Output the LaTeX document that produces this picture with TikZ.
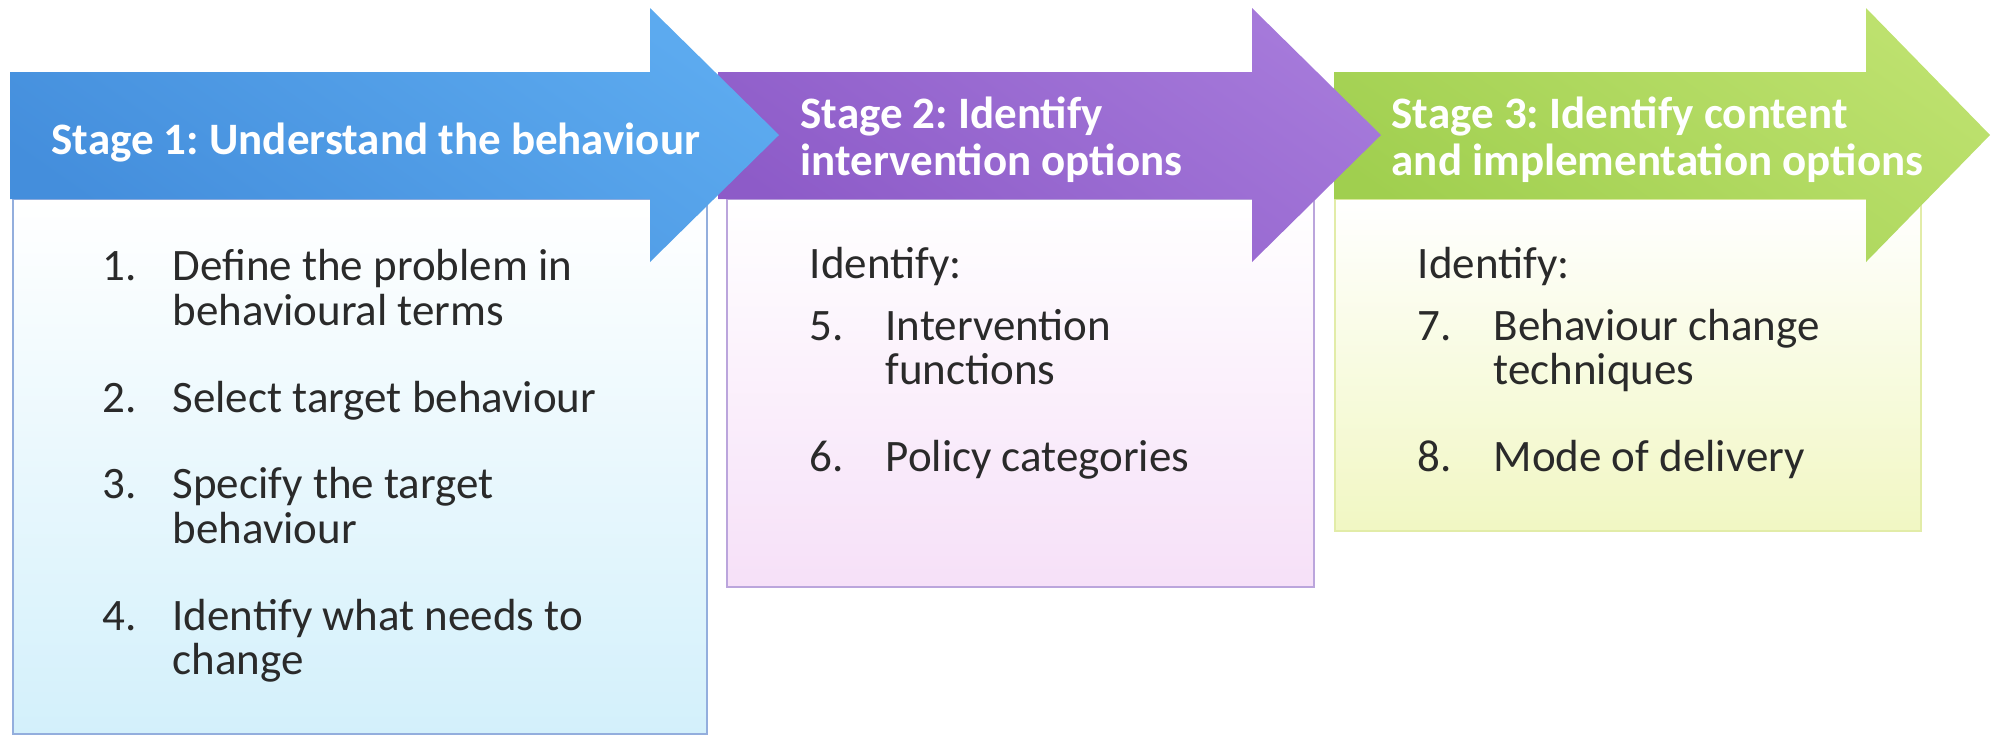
\documentclass[tikz,border=0pt]{standalone}
\usepackage{fontspec}
\setmainfont{Carlito}
\usepackage{xcolor}
\usepackage{tikz}
\usetikzlibrary{positioning, calc}
\frenchspacing

\definecolor{blueL}{HTML}{5CAAEF}
\definecolor{blueD}{HTML}{448EDC}
\definecolor{purpleL}{HTML}{A579DA}
\definecolor{purpleD}{HTML}{8D5BC8}
\definecolor{greenL}{HTML}{BDE16E}
\definecolor{greenD}{HTML}{A0CF4F}
\definecolor{bluePanel}{HTML}{D3F0FB}
\definecolor{blueEdge}{HTML}{93AEDD}
\definecolor{purplePanel}{HTML}{F6E0F8}
\definecolor{purpleEdge}{HTML}{BBA5DC}
\definecolor{greenPanel}{HTML}{F1F7C3}
\definecolor{greenEdge}{HTML}{E2ECA8}
\definecolor{ink}{HTML}{2A2A2A}

\begin{document}
\begin{tikzpicture}[x=0.1mm, y=-0.1mm,
  stagetext/.style={anchor=west, inner sep=0pt, align=left, text=white,
    font=\bfseries\fontsize{12.8}{13.4}\selectfont},
  steplist/.style={anchor=north west, inner sep=0pt, text=ink,
    font=\fontsize{12.8}{12.6}\selectfont},
  panel/.style={line width=0.6pt, top color=white}]
\useasboundingbox (0,0) rectangle (1992,737);

% panels below the arrows
\draw[panel, draw=blueEdge, bottom color=bluePanel] (13,199) rectangle (707,734);
\draw[panel, draw=purpleEdge, bottom color=purplePanel] (727,199) rectangle (1314,587);
\draw[panel, draw=greenEdge, bottom color=greenPanel] (1335,199) rectangle (1921,531);

% arrows, right one first so every head lies over the next body
\shade[top color=greenL, bottom color=greenD, shading angle=-35]
  (1334,72) -- (1866,72) -- (1866,8) -- (1990,135) -- (1866,262) -- (1866,199) -- (1334,199) -- cycle;
\shade[top color=purpleL, bottom color=purpleD, shading angle=-35]
  (718,72) -- (1252,72) -- (1252,8) -- (1381,135) -- (1252,262) -- (1252,199) -- (718,199) -- cycle;
\shade[top color=blueL, bottom color=blueD, shading angle=-35]
  (10,72) -- (650,72) -- (650,8) -- (779,135) -- (650,262) -- (650,199) -- (10,199) -- cycle;

% stage titles
\node[stagetext] (stage1) at (51,143) {Stage 1: Understand the behaviour};
\node[stagetext] (stage2) at (800,140) {Stage 2: Identify\\intervention options};
\node[stagetext] (stage3) at (1391,140) {Stage 3: Identify content\\and implementation options};

% steps of each stage
\node[steplist] (steps1) at (102,249) {\begin{tabular}{@{}p{19.9pt}@{}l@{}}
1. & Define the problem in\\
   & behavioural terms\\[12pt]
2. & Select target behaviour\\[12pt]
3. & Specify the target\\
   & behaviour\\[12pt]
4. & Identify what needs to\\
   & change
\end{tabular}};
\node[steplist] (steps2) at (809,247) {\begin{tabular}{@{}p{21.6pt}@{}l@{}}
\multicolumn{2}{@{}l@{}}{Identify:}\\[4.8pt]
5. & Intervention\\
   & functions\\[12pt]
6. & Policy categories
\end{tabular}};
\node[steplist] (steps3) at (1417,247) {\begin{tabular}{@{}p{21.6pt}@{}l@{}}
\multicolumn{2}{@{}l@{}}{Identify:}\\[4.8pt]
7. & Behaviour change\\
   & techniques\\[12pt]
8. & Mode of delivery
\end{tabular}};
\end{tikzpicture}
\end{document}
